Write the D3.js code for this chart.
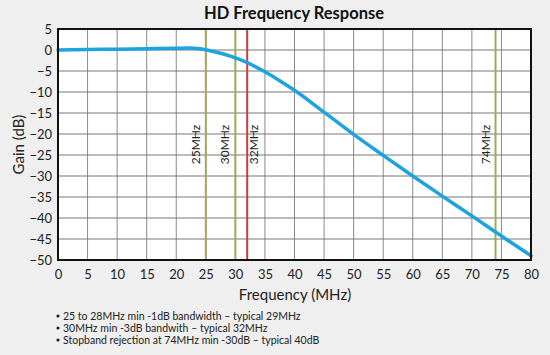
<!DOCTYPE html>
<html><head><meta charset="utf-8">
<script src="https://cdn.jsdelivr.net/npm/d3@7/dist/d3.min.js"></script>
<style>
html,body{margin:0;padding:0;background:#efefef;}
text{font-family:"Lato","Open Sans",sans-serif;}
</style></head>
<body>
<script>
const freqs = [0,5,10,15,20,22,24,25,27,29,30,32,35,37.5,40,45,50,55,60,65,70,75,80];
const gains = [0,0.1,0.2,0.3,0.4,0.45,0.3,0.05,-0.6,-1.4,-1.9,-3.0,-5.2,-7.3,-9.6,-14.8,-20.1,-25.1,-30,-34.8,-39.5,-44.3,-49];
const markerFreqs = [25,30,32,74];
const markerLabels = ["25MHz","30MHz","32MHz","74MHz"];
const markerColors = ["#a3a85a","#a3a85a","#d23a3a","#a3a85a"];
const xTicks = d3.range(0,81,5);
const yTicks = d3.range(-50,6,5);
const notes = ["25 to 28MHz min -1dB bandwidth \u2013 typical 29MHz",
               "30MHz min -3dB bandwith \u2013 typical 32MHz",
               "Stopband rejection at 74MHz min -30dB \u2013 typical 40dB"];

const W=550,H=355;
const m={l:58,r:19,t:29,b:95};
const svg=d3.select("body").append("svg").attr("width",W).attr("height",H);
svg.append("rect").attr("width",W).attr("height",H).attr("fill","#efefef");
const x=d3.scaleLinear().domain([0,80]).range([m.l,W-m.r]);
const y=d3.scaleLinear().domain([-50,5]).range([H-m.b,m.t]);

svg.append("rect").attr("x",x(0)).attr("y",y(5)).attr("width",x(80)-x(0)).attr("height",y(-50)-y(5)).attr("fill","#fff");

// grid
svg.append("g").selectAll("line").data(xTicks.slice(1,-1)).join("line")
 .attr("x1",d=>x(d)).attr("x2",d=>x(d)).attr("y1",y(5)).attr("y2",y(-50))
 .attr("stroke","#8a8a8a").attr("stroke-width",1);
svg.append("g").selectAll("line").data(yTicks.slice(1,-1)).join("line")
 .attr("y1",d=>y(d)).attr("y2",d=>y(d)).attr("x1",x(0)).attr("x2",x(80))
 .attr("stroke","#777").attr("stroke-width",1);

// markers
const mk=svg.append("g");
markerFreqs.forEach((f,i)=>{
  mk.append("line").attr("x1",x(f)).attr("x2",x(f)).attr("y1",y(5)).attr("y2",y(-50))
    .attr("stroke",markerColors[i]).attr("stroke-width",2);
  const dx = f===32 ? 7.5 : -9;
  mk.append("text").attr("transform",`translate(${x(f)+dx},${y(-22.5)}) rotate(-90)`)
    .attr("text-anchor","middle").attr("dominant-baseline","middle")
    .attr("font-size",12).attr("fill","#222").text(markerLabels[i]);
});

// curve
const line=d3.line().x((d,i)=>x(freqs[i])).y(d=>y(d)).curve(d3.curveMonotoneX);
svg.append("path").datum(gains).attr("d",line).attr("fill","none")
 .attr("stroke","#1da3dd").attr("stroke-width",3.5).attr("stroke-linecap","round");

// frame
svg.append("rect").attr("x",x(0)).attr("y",y(5)).attr("width",x(80)-x(0)).attr("height",y(-50)-y(5))
 .attr("fill","none").attr("stroke","#111").attr("stroke-width",2);

// axes
const xa=svg.append("g").attr("transform",`translate(0,${y(-50)})`)
 .call(d3.axisBottom(x).tickValues(xTicks).tickSize(0).tickPadding(10));
xa.select(".domain").remove();
xa.selectAll("text").attr("font-size",13).attr("fill","#222");
const ya=svg.append("g").attr("transform",`translate(${x(0)},0)`)
 .call(d3.axisLeft(y).tickValues(yTicks).tickSize(0).tickPadding(6));
ya.select(".domain").remove();
ya.selectAll("text").attr("font-size",13).attr("fill","#222");

svg.append("text").attr("x",294).attr("y",19).attr("text-anchor","middle")
 .attr("font-size",16.5).attr("font-weight","bold").attr("fill","#111").text("HD Frequency Response");
svg.append("text").attr("x",295).attr("y",300).attr("text-anchor","middle")
 .attr("font-size",15).attr("fill","#222").text("Frequency (MHz)");
svg.append("text").attr("transform",`translate(24,${(y(5)+y(-50))/2}) rotate(-90)`).attr("text-anchor","middle")
 .attr("font-size",15).attr("fill","#222").text("Gain (dB)");

const ng=svg.append("g");
notes.forEach((t,i)=>{
  ng.append("circle").attr("cx",58).attr("cy",316+i*12).attr("r",1.6).attr("fill","#222");
  ng.append("text").attr("x",63).attr("y",320+i*12).attr("font-size",10.5).attr("fill","#222").text(t);
});
</script>
</body></html>
